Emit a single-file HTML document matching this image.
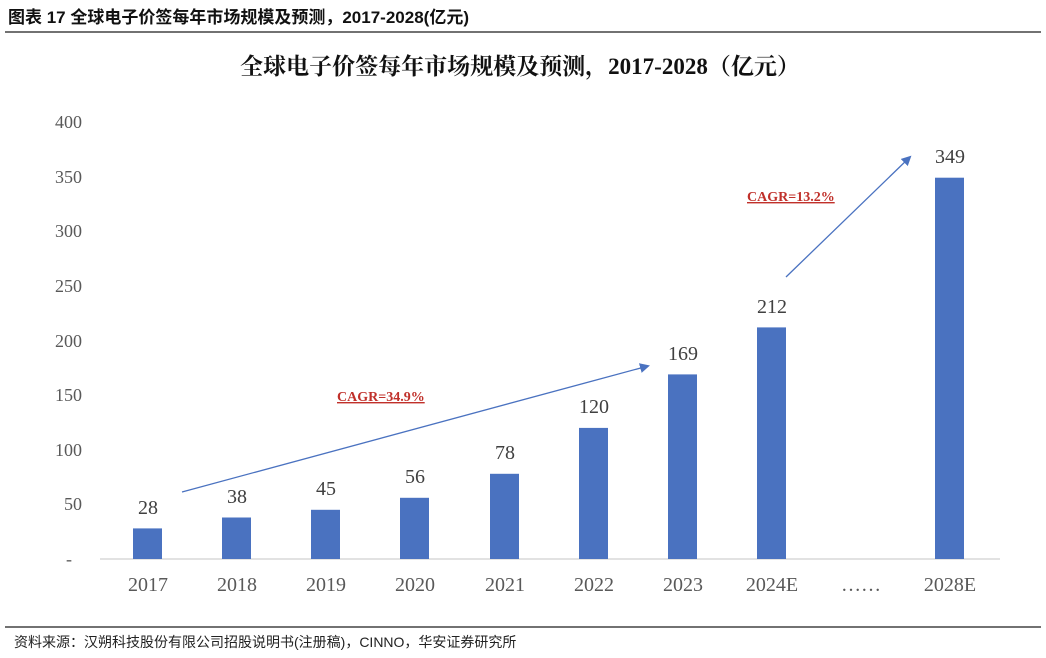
<!DOCTYPE html>
<html><head><meta charset="utf-8"><style>
body{margin:0;width:1046px;height:658px;background:#fff;overflow:hidden}
svg{display:block}
</style></head><body>
<svg width="1046" height="658" xmlns="http://www.w3.org/2000/svg">
<text x="8" y="23" font-family="Liberation Sans, Noto Sans CJK SC, sans-serif" font-size="17" font-weight="bold" fill="#111">图表 17 全球电子价签每年市场规模及预测，2017-2028(亿元)</text>
<line x1="5" y1="32" x2="1041" y2="32" stroke="#444" stroke-width="1.5"/>
<text x="520" y="74" text-anchor="middle" font-family="Liberation Serif, Noto Serif CJK SC, serif" font-size="23" font-weight="bold" fill="#111">全球电子价签每年市场规模及预测，2017-2028（亿元）</text>
<g font-family="Liberation Serif, serif" font-size="18" fill="#595959" text-anchor="end">
<text x="82" y="128">400</text><text x="82" y="183">350</text><text x="82" y="237">300</text>
<text x="82" y="292">250</text><text x="82" y="347">200</text><text x="82" y="401">150</text>
<text x="82" y="456">100</text><text x="82" y="510">50</text><text x="72" y="565">-</text>
</g>
<line x1="100" y1="559" x2="1000" y2="559" stroke="#d9d9d9" stroke-width="1.5"/>
<g fill="#4a72c0">
<rect x="133" y="528.4" width="29" height="30.6"/>
<rect x="222" y="517.5" width="29" height="41.5"/>
<rect x="311" y="509.8" width="29" height="49.2"/>
<rect x="400" y="497.8" width="29" height="61.2"/>
<rect x="490" y="473.8" width="29" height="85.2"/>
<rect x="579" y="427.9" width="29" height="131.1"/>
<rect x="668" y="374.4" width="29" height="184.6"/>
<rect x="757" y="327.4" width="29" height="231.6"/>
<rect x="935" y="177.7" width="29" height="381.3"/>
</g>
<g font-family="Liberation Serif, serif" font-size="20" fill="#404040" text-anchor="middle">
<text x="148" y="514">28</text><text x="237" y="503">38</text><text x="326" y="495">45</text>
<text x="415" y="483">56</text><text x="505" y="459">78</text><text x="594" y="413">120</text>
<text x="683" y="360">169</text><text x="772" y="313">212</text><text x="950" y="163">349</text>
</g>
<g font-family="Liberation Serif, serif" font-size="20" fill="#595959" text-anchor="middle">
<text x="148" y="591">2017</text><text x="237" y="591">2018</text><text x="326" y="591">2019</text>
<text x="415" y="591">2020</text><text x="505" y="591">2021</text><text x="594" y="591">2022</text>
<text x="683" y="591">2023</text><text x="772" y="591">2024E</text><text x="861" y="591">……</text>
<text x="950" y="591">2028E</text>
</g>
<defs><marker id="a" markerWidth="10" markerHeight="10" refX="8" refY="5" orient="auto" markerUnits="userSpaceOnUse"><path d="M0,0 L10,5 L0,10 z" fill="#4a72c0"/></marker></defs>
<line x1="182" y1="492" x2="648" y2="366" stroke="#4a72c0" stroke-width="1.3" marker-end="url(#a)"/>
<line x1="786" y1="277" x2="910" y2="157" stroke="#4a72c0" stroke-width="1.3" marker-end="url(#a)"/>
<g font-family="Liberation Serif, serif" font-size="14" font-weight="bold" fill="#c0302a" text-decoration="underline">
<text x="337" y="401">CAGR=34.9%</text>
<text x="747" y="201">CAGR=13.2%</text>
</g>
<line x1="5" y1="627" x2="1041" y2="627" stroke="#444" stroke-width="1.5"/>
<text x="14" y="647" font-family="Liberation Sans, Noto Sans CJK SC, sans-serif" font-size="14" fill="#222">资料来源：汉朔科技股份有限公司招股说明书(注册稿)，CINNO，华安证券研究所</text>
</svg>
</body></html>
